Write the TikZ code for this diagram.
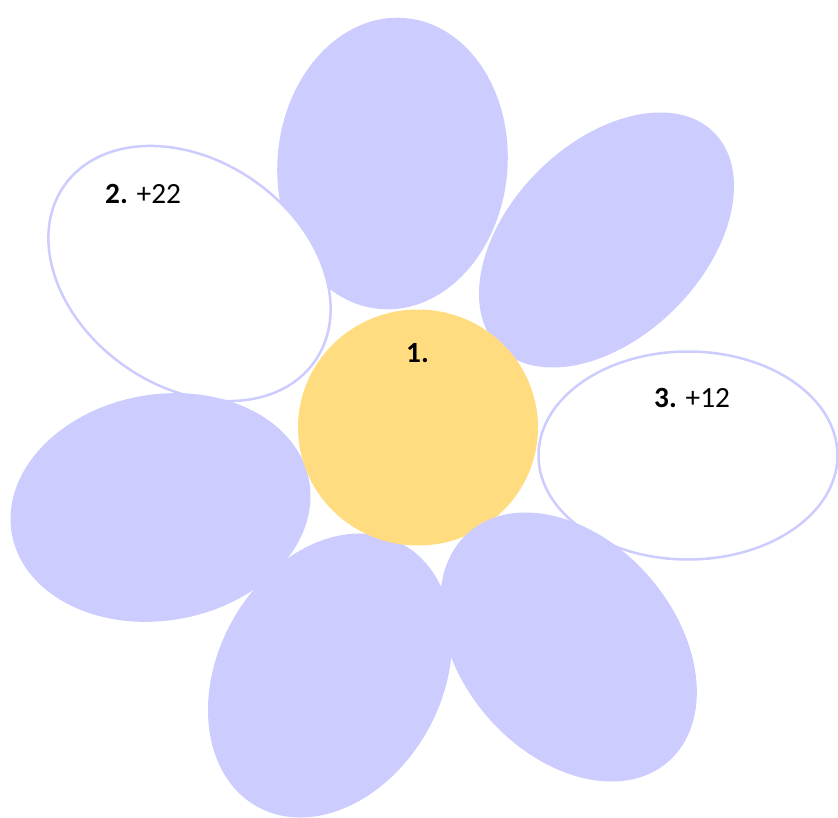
\documentclass[tikz,border=0pt]{standalone}
\usepackage{fontspec}
\setmainfont{Carlito}
\definecolor{petalblue}{HTML}{CCCCFF}
\definecolor{heartyellow}{HTML}{FFDC80}
\tikzset{
  petal/.style={fill=petalblue},
  openpetal/.style={fill=white, draw=petalblue, line width=2.5pt},
  heart/.style={fill=heartyellow},
  lbl/.style={inner sep=0pt, anchor=base west, font=\fontsize{29.3}{34}\selectfont}
}
\begin{document}
\begin{tikzpicture}[x=1pt,y=1pt]
\useasboundingbox (0,0) rectangle (838,-818);
% top petal
\fill[petal, rotate around={-5:(392.5,-163.5)}] (392.5,-163.5) ellipse [x radius=115pt, y radius=146pt];
% upper-right petal
\fill[petal, rotate around={45:(606.5,-240)}] (606.5,-240) ellipse [x radius=152pt, y radius=97pt];
% upper-left open petal
\draw[openpetal, rotate around={-35:(189.5,-273.5)}] (189.5,-273.5) ellipse [x radius=153pt, y radius=113pt];
% left petal
\fill[petal, rotate around={10:(160.5,-507.5)}] (160.5,-507.5) ellipse [x radius=151pt, y radius=113pt];
% lower petal
\fill[petal, rotate around={61:(330,-675.5)}] (330,-675.5) ellipse [x radius=150pt, y radius=112pt];
% centre
\fill[heart] (418,-427.5) ellipse [x radius=120pt, y radius=118pt];
% right open petal
\draw[openpetal] (688,-455.5) ellipse [x radius=149.5pt, y radius=104pt];
% lower-right petal
\fill[petal, rotate around={-49:(568.5,-647)}] (568.5,-647) ellipse [x radius=152pt, y radius=107pt];
% labels
\node[lbl] (n1) at (406,-362) {\textbf{1.}};
\node[lbl] (n2) at (105,-204) {\textbf{2.} +22};
\node[lbl] (n3) at (654,-407) {\textbf{3.} +12};
\end{tikzpicture}
\end{document}
